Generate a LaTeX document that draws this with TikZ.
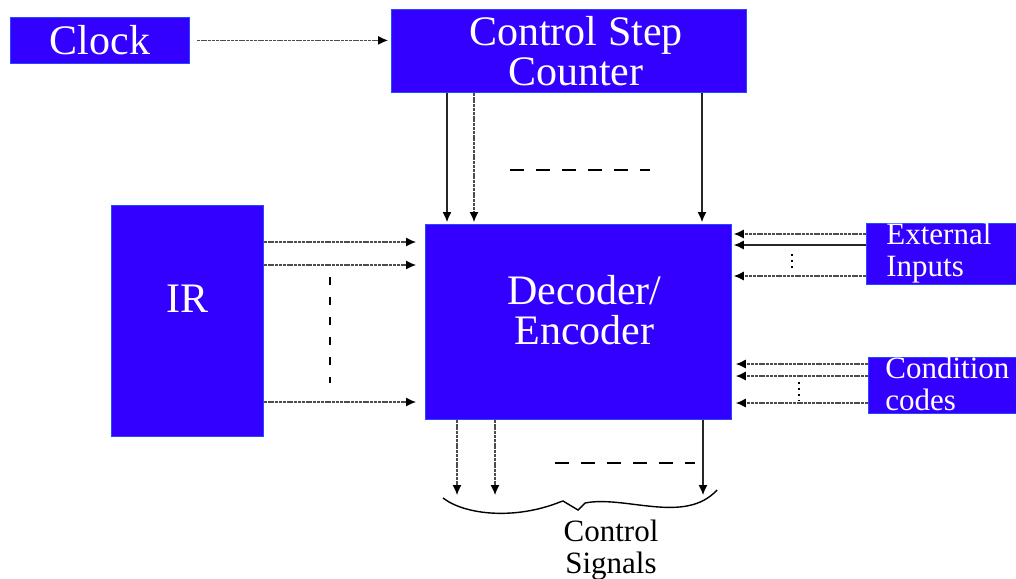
\documentclass[tikz,border=0pt]{standalone}
\usepackage{fontspec}
\setmainfont{Liberation Serif}
\usetikzlibrary{arrows.meta, positioning, calc}
\definecolor{BoxBlue}{HTML}{3300FF}

\begin{document}
\begin{tikzpicture}[x=0.5pt, y=-0.5pt,
    box/.style={fill=BoxBlue, draw=BoxBlue!70!cyan, line width=0.4pt, anchor=north west, inner sep=0pt},
    bigtxt/.style={text=white, font=\fontsize{21}{20}\selectfont, align=center},
    smalltxt/.style={text=white, font=\fontsize{15.5}{16}\selectfont, align=left, anchor=west, inner sep=0pt},
    wire/.style={draw=black!85, line width=0.6pt, -{Latex[length=5pt, width=4.5pt, color=black]}},
    dwire/.style={wire, draw=black!70, dash pattern=on 1.5pt off 0.4pt},
    gapline/.style={draw=black, line width=0.6pt, dash pattern=on 7pt off 6pt}]
    \useasboundingbox (0,0) rectangle (1016,578);

    % Blocks
    \node[box, minimum width=89.5pt, minimum height=23pt] (clk) at (10,17) {};
    \node[box, minimum width=177.5pt, minimum height=41.5pt] (csc) at (391,9) {};
    \node[box, minimum width=153pt, minimum height=97.5pt] (dec) at (425,224) {};
    \node[box, minimum width=76pt, minimum height=115.5pt] (ir) at (111,205) {};
    \node[box, minimum width=75pt, minimum height=30.5pt] (ext) at (866,223) {};
    \node[box, minimum width=74pt, minimum height=28pt] (cc) at (868,357) {};

    % Block texts
    \node[bigtxt] (clktxt) at (clk.center) {Clock};
    \node[bigtxt] (csctxt) at ($(csc.center)+(7,0)$) {Control Step\\Counter};
    \node[bigtxt] (dectxt) at ($(dec.center)+(6,-12)$) {Decoder/\\Encoder};
    \node[bigtxt] (irtxt) at ($(ir.center)+(0,-22)$) {IR};
    \node[smalltxt] (exttxt) at (886,253) {External\\Inputs};
    \node[smalltxt] (cctxt) at (885,384) {Condition\\codes};
    \node[font=\fontsize{15.5}{16}\selectfont, align=center] (sigtxt) at (611,550) {Control\\Signals};

    % Clock to counter
    \draw[dwire, shorten <=3.5pt, shorten >=1.5pt] (clk.east) -- (clk.east -| csc.west);

    % Counter to decoder
    \draw[wire, shorten >=1pt] (csc.south -| 447,0) -- (dec.north -| 447,0);
    \draw[dwire, shorten >=1pt] (csc.south -| 474,0) -- (dec.north -| 474,0);
    \draw[wire, shorten >=1pt] (csc.south -| 702,0) -- (dec.north -| 702,0);
    \draw[gapline] (510,170) -- (650,170);

    % IR to decoder
    \foreach \y in {242,265,402}
        \draw[dwire, shorten >=4.5pt] (ir.east |- 0,\y) -- (dec.west |- 0,\y);
    \draw[black, line width=0.6pt, dash pattern=on 4pt off 6pt] (330,277) -- (330,383);

    % External inputs and condition codes
    \draw[dwire, shorten >=1pt] (ext.west |- 0,234) -- (dec.east |- 0,234);
    \draw[wire, shorten >=1pt] (ext.west |- 0,245) -- (dec.east |- 0,245);
    \draw[dwire, shorten >=1pt] (ext.west |- 0,276) -- (dec.east |- 0,276);
    \draw[black, line width=1pt, dotted] (792,254) -- (792,271);
    \draw[dwire, shorten >=2pt] (cc.west |- 0,364) -- (dec.east |- 0,364);
    \draw[dwire, shorten >=2pt] (cc.west |- 0,376) -- (dec.east |- 0,376);
    \draw[dwire, shorten >=2pt] (cc.west |- 0,403) -- (dec.east |- 0,403);
    \draw[black, line width=1pt, dotted] (799,382) -- (799,401);

    % Control signals
    \coordinate (sigend) at (0,495);
    \draw[dwire] (dec.south -| 457,0) -- (457,0 |- sigend);
    \draw[dwire] (dec.south -| 495,0) -- (495,0 |- sigend);
    \draw[wire] (dec.south -| 703,0) -- (703,0 |- sigend);
    \draw[gapline] (555,463) -- (695,463);

    % Brace
    \draw[black, line width=0.7pt] (443,498) .. controls (465,515) and (515,520) .. (560,502)
        -- (563,501) -- (578,510) -- (585,503) .. controls (625,495) and (685,525) .. (717,490);
\end{tikzpicture}
\end{document}
